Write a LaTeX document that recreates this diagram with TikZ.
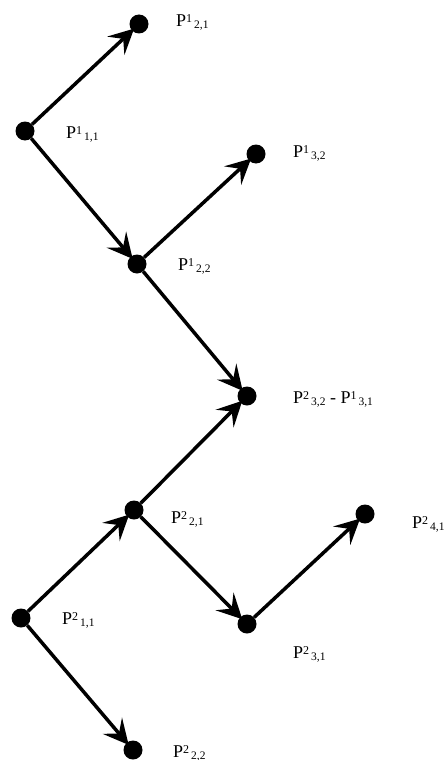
\documentclass[tikz,border=0pt]{standalone}
\usepackage{fontspec}
\setmainfont{Liberation Serif}
\usepackage{tikz}
\usetikzlibrary{arrows.meta}

\newcommand{\plab}[3]{P\raisebox{4pt}{\fontsize{12}{12}\selectfont #1}\hspace{2pt}\raisebox{-2pt}{\fontsize{11.5}{12}\selectfont #2,#3}}

\begin{document}
\begin{tikzpicture}[
    x=1pt, y=-1pt,
    dot/.style={circle, fill=black, inner sep=0pt, minimum size=19pt},
    lab/.style={anchor=base west, inner sep=0pt, font=\fontsize{18}{20}\selectfont},
    arrow/.style={-{Stealth[length=25pt, width=25pt, inset=10pt]}, line width=3.5pt, shorten >=-3pt},
]
\useasboundingbox (0,0) rectangle (444,760);

% upper tree
\node[dot] (a11) at (25,131) {};
\node[lab] at (66,138) {\plab{1}{1}{1}};
\node[dot] (a21) at (139,24) {};
\node[lab] at (176,27) {\plab{1}{2}{1}};
\node[dot] (a22) at (137,264) {};
\node[lab] at (178,270) {\plab{1}{2}{2}};
\node[dot] (a32) at (256,154) {};
\node[lab] at (293,157) {\plab{1}{3}{2}};

% shared point
\node[dot] (m) at (247,396) {};
\node[lab] at (293,403) {\plab{2}{3}{2} - \plab{1}{3}{1}};

% lower tree
\node[dot] (b11) at (21,618) {};
\node[lab] at (62,624) {\plab{2}{1}{1}};
\node[dot] (b21) at (134,510) {};
\node[lab] at (171,523) {\plab{2}{2}{1}};
\node[dot] (b22) at (133,750) {};
\node[lab] at (173,757) {\plab{2}{2}{2}};
\node[dot] (b31) at (247,624) {};
\node[lab] at (293,658) {\plab{2}{3}{1}};
\node[dot] (b41) at (365,514) {};
\node[lab] at (412,528) {\plab{2}{4}{1}};

% Arrows
\draw[arrow] (a11) -- (a21);
\draw[arrow] (a11) -- (a22);
\draw[arrow] (a22) -- (a32);
\draw[arrow] (a22) -- (m);
\draw[arrow] (b21) -- (m);
\draw[arrow] (b11) -- (b21);
\draw[arrow] (b11) -- (b22);
\draw[arrow] (b21) -- (b31);
\draw[arrow] (b31) -- (b41);
\end{tikzpicture}
\end{document}
